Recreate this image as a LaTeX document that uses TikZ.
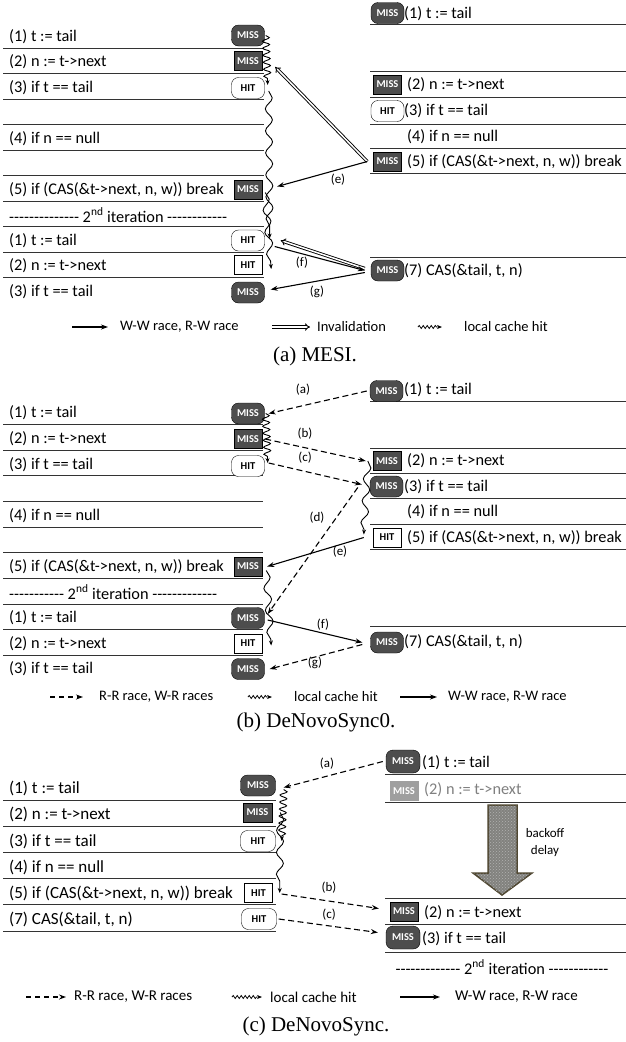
\documentclass[tikz,border=0pt]{standalone}
\usepackage{fontspec}
\setmainfont{Carlito}[Ligatures=TeXOff]
\newfontfamily\capfont{Liberation Serif}
\usetikzlibrary{arrows.meta,decorations.pathmorphing,patterns}
\definecolor{missfill}{RGB}{77,77,77}
\definecolor{delayfill}{RGB}{130,130,126}
\definecolor{delayedge}{RGB}{78,70,48}

\begin{document}
\begin{tikzpicture}[
  x=1pt, y=-1pt,
  stmt/.style={anchor=west, inner sep=0pt, font=\fontsize{16.3}{18}\selectfont},
  stmtc/.style={stmt, font=\fontsize{17}{19}\selectfont},
  hline/.style={line width=0.8pt, black!80},
  badge/.style={inner sep=0pt, font=\fontsize{10.5}{12}\selectfont\bfseries},
  missr/.style={badge, draw, fill=missfill, text=white, rounded corners=7pt, minimum width=33pt, minimum height=21pt},
  misss/.style={badge, draw, fill=missfill, text=white, minimum width=28pt, minimum height=19pt},
  hitr/.style={badge, draw, fill=white, rounded corners=7pt, minimum width=33pt, minimum height=21pt},
  hits/.style={badge, draw, fill=white, minimum width=28pt, minimum height=19pt},
  race/.style={line width=1.1pt, -{Stealth[length=7pt, width=5pt]}},
  rrace/.style={race, dash pattern=on 6pt off 3.5pt},
  inval/.style={double, double distance=1.5pt, line width=0.9pt, -{Implies}},
  hitw/.style={line width=0.9pt, -{Stealth[length=5pt, width=4pt]}, decorate,
    decoration={snake, amplitude=3.5pt, segment length=7pt, post length=4pt}},
  hitwl/.style={hitw, decoration={snake, amplitude=3.5pt, segment length=22pt, post length=4pt}},
  legw/.style={hitw, line width=0.8pt, decoration={snake, amplitude=1.5pt, segment length=4pt, post length=4pt}},
  lab/.style={inner sep=0pt, font=\fontsize{13}{15}\selectfont},
  leg/.style={anchor=west, inner sep=0pt, font=\fontsize{14.5}{16}\selectfont},
  capt/.style={font=\capfont\fontsize{21}{24}\selectfont}
]
  \useasboundingbox (0,0) rectangle (626,1042);
  \fill[white] (0,0) rectangle (626,1042);

  % (a) MESI -- left core
  \foreach \y in {48,73.5,99,124.5,150,175.5,201,226.5,252,277.5}
    \draw[hline] (3,\y) -- (264,\y);
  \node[stmt] (ta1) at (9,36.5) {(1) t := tail};
  \node[stmt] (ta2) at (9,62) {(2) n := t->next};
  \node[stmt] (ta3) at (9,87.5) {(3) if t == tail};
  \node[stmt] (ta4) at (9,138.5) {(4) if n == null};
  \node[stmt] (ta5) at (9,189.5) {(5) if (CAS(\&t->next, n, w)) break};
  \node[stmt] (tai) at (9,215) {-------------- 2\textsuperscript{nd} iteration ------------};
  \node[stmt] (ta6) at (9,240.5) {(1) t := tail};
  \node[stmt] (ta7) at (9,266) {(2) n := t->next};
  \node[stmt] (ta8) at (9,291.5) {(3) if t == tail};
  \node[missr] (a1) at (248,35.5) {MISS};
  \node[misss] (a2) at (248,61) {MISS};
  \node[hitr] (a3) at (248,88) {HIT};
  \node[misss] (a5) at (248,189.5) {MISS};
  \node[hitr] (a6) at (248,240.5) {HIT};
  \node[hits] (a7) at (248,265) {HIT};
  \node[missr] (a8) at (248,292.5) {MISS};

  % (a) MESI -- right core
  \foreach \y in {24,71,97,124.5,148,173,257}
    \draw[hline] (370,\y) -- (626,\y);
  \node[missr] (ra1) at (387.5,13) {MISS};
  \node[stmt] (tra1) at (404,13.5) {(1) t := tail};
  \node[misss] (ra2) at (387.5,84.5) {MISS};
  \node[stmt] (tra2) at (407,84.5) {(2) n := t->next};
  \node[hitr] (ra3) at (387.5,111) {HIT};
  \node[stmt] (tra3) at (404,111) {(3) if t == tail};
  \node[stmt] (tra4) at (407,136.5) {(4) if n == null};
  \node[misss] (ra5) at (387.5,161.5) {MISS};
  \node[stmt] (tra5) at (407,161.5) {(5) if (CAS(\&t->next, n, w)) break};
  \node[missr] (ra7) at (387.5,270.5) {MISS};
  \node[stmt] (tra7) at (404,270.5) {(7) CAS(\&tail, t, n)};

  % (a) races and hits
  \draw[hitw] ([xshift=1pt]a1.east) -- ([xshift=3pt,yshift=3pt]a3.east);
  \draw[hitwl] ([xshift=4pt,yshift=-3pt]a3.east) -- ([xshift=5pt,yshift=2pt]a6.east);
  \draw[hitwl] ([xshift=3pt,yshift=-3pt]a5.east) -- ([xshift=9pt,yshift=-4pt]a7.east);
  \draw[inval] ([xshift=-6pt]ra5.west) -- ([xshift=13pt,yshift=-6pt]a2.east);
  \draw[race] ([xshift=-6pt]ra5.west) -- ([xshift=15pt,yshift=3pt]a5.east);
  \draw[inval] ([xshift=-6pt,yshift=2pt]ra7.west) -- ([xshift=16pt]a6.east);
  \draw[race] ([xshift=10pt,yshift=-6pt]a6.east) -- ([xshift=-6pt]ra7.west);
  \draw[race] ([xshift=-6pt,yshift=-2pt]ra7.west) -- ([xshift=6pt,yshift=3pt]a8.east);
  \node[lab] (lae) at (338,180) {(e)};
  \node[lab] (laf) at (302,263) {(f)};
  \node[lab] (lag) at (317,292) {(g)};

  % (a) legend
  \node[leg] (lga1) at (120,327) {W-W race, R-W race};
  \draw[race] ([xshift=-48pt]lga1.west) -- ([xshift=-12pt]lga1.west);
  \node[leg] (lga2) at (317,327) {Invalidation};
  \draw[inval] ([xshift=-45pt]lga2.west) -- ([xshift=-7pt]lga2.west);
  \node[leg] (lga3) at (464,327) {local cache hit};
  \draw[legw] ([xshift=-46pt]lga3.west) -- ([xshift=-22pt]lga3.west);
  \node[capt] (capa) at (315,356) {(a) MESI.};

  % (b) DeNovoSync0 -- left core
  \foreach \y in {424,450,475.5,501,527,552.5,578,604,629.5,655}
    \draw[hline] (3,\y) -- (263,\y);
  \node[stmt] (tb1) at (9,413) {(1) t := tail};
  \node[stmt] (tb2) at (9,439) {(2) n := t->next};
  \node[stmt] (tb3) at (9,464.5) {(3) if t == tail};
  \node[stmt] (tb4) at (9,515.5) {(4) if n == null};
  \node[stmt] (tb5) at (9,566.5) {(5) if (CAS(\&t->next, n, w)) break};
  \node[stmt] (tbi) at (9,592) {----------- 2\textsuperscript{nd} iteration -------------};
  \node[stmt] (tb6) at (9,618) {(1) t := tail};
  \node[stmt] (tb7) at (9,643.5) {(2) n := t->next};
  \node[stmt] (tb8) at (9,669) {(3) if t == tail};
  \node[missr] (b1) at (248,413.5) {MISS};
  \node[misss] (b2) at (248,439) {MISS};
  \node[hitr] (b3) at (248,466) {HIT};
  \node[misss] (b5) at (248,566.5) {MISS};
  \node[missr] (b6) at (248,618) {MISS};
  \node[hits] (b7) at (248,643.5) {HIT};
  \node[missr] (b8) at (248,669) {MISS};

  % (b) DeNovoSync0 -- right core
  \foreach \y in {401,448,473.5,498.5,524,549,626}
    \draw[hline] (370,\y) -- (626,\y);
  \node[missr] (rb1) at (386.5,391) {MISS};
  \node[stmt] (trb1) at (404,390) {(1) t := tail};
  \node[misss] (rb2) at (387,461) {MISS};
  \node[stmt] (trb2) at (407,461) {(2) n := t->next};
  \node[missr] (rb3) at (386.5,486.5) {MISS};
  \node[stmt] (trb3) at (404,486.5) {(3) if t == tail};
  \node[stmt] (trb4) at (407,512) {(4) if n == null};
  \node[hits] (rb5) at (387,537.5) {HIT};
  \node[stmt] (trb5) at (407,538) {(5) if (CAS(\&t->next, n, w)) break};
  \node[missr] (rb7) at (387,642.5) {MISS};
  \node[stmt] (trb7) at (404,642) {(7) CAS(\&tail, t, n)};

  % (b) races and hits
  \draw[rrace] ([xshift=-3pt]rb1.west) -- ([xshift=4pt]b1.east);
  \draw[hitw] ([xshift=1pt]b1.east) -- ([xshift=3pt,yshift=3pt]b3.east);
  \draw[rrace] ([xshift=3pt]b2.east) -- ([xshift=-7pt]rb2.west);
  \draw[rrace] ([xshift=4pt,yshift=3pt]b3.east) -- ([xshift=-8pt,yshift=2pt]rb3.west);
  \draw[hitwl] ([xshift=-5pt]rb2.west) -- ([xshift=-9pt,yshift=3pt]rb5.west);
  \draw[rrace] ([xshift=-12pt,yshift=-1pt]rb3.west) -- ([xshift=3pt,yshift=4pt]b6.east);
  \draw[race] ([xshift=-9pt]rb5.west) -- ([xshift=5pt]b5.east);
  \draw[hitwl] ([xshift=4pt,yshift=-4pt]b5.east) -- ([xshift=9pt,yshift=-2pt]b7.east);
  \draw[race] ([xshift=3pt,yshift=-2pt]b6.east) -- ([xshift=-8pt]rb7.west);
  \draw[rrace] ([xshift=-8pt,yshift=-2pt]rb7.west) -- ([xshift=5pt]b8.east);
  \node[lab] (lba) at (303,390) {(a)};
  \node[lab] (lbb) at (305,434) {(b)};
  \node[lab] (lbc) at (305,458) {(c)};
  \node[lab] (lbd) at (317,518) {(d)};
  \node[lab] (lbe) at (340,552) {(e)};
  \node[lab] (lbf) at (323,625) {(f)};
  \node[lab] (lbg) at (315,663) {(g)};

  % (b) legend
  \node[leg] (lgb1) at (99,697) {R-R race, W-R races};
  \draw[rrace, dash pattern=on 5pt off 4pt] ([xshift=-49pt]lgb1.west) -- ([xshift=-16pt]lgb1.west);
  \node[leg] (lgb2) at (294,697) {local cache hit};
  \draw[legw] ([xshift=-46pt]lgb2.west) -- ([xshift=-22pt]lgb2.west);
  \node[leg] (lgb3) at (448,697) {W-W race, R-W race};
  \draw[race] ([xshift=-48pt]lgb3.west) -- ([xshift=-11pt]lgb3.west);
  \node[capt] (capb) at (316,722) {(b) DeNovoSync0.};

  % (c) DeNovoSync -- left core
  \foreach \y in {800,826,852.5,878.5,904.5,931}
    \draw[hline] (3,\y) -- (276,\y);
  \node[stmtc] (tc1) at (9,788) {(1) t := tail};
  \node[stmtc] (tc2) at (9,814.5) {(2) n := t->next};
  \node[stmtc] (tc3) at (9,841) {(3) if t == tail};
  \node[stmtc] (tc4) at (9,867) {(4) if n == null};
  \node[stmtc] (tc5) at (9,893) {(5) if (CAS(\&t->next, n, w)) break};
  \node[stmtc] (tc7) at (9,919) {(7) CAS(\&tail, t, n)};
  \node[missr, minimum width=35pt] (c1) at (258,785.5) {MISS};
  \node[misss, minimum width=29pt] (c2) at (257.5,812.5) {MISS};
  \node[hitr, minimum width=35pt] (c3) at (258,841) {HIT};
  \node[hits] (c5) at (258.5,893) {HIT};
  \node[hitr, minimum width=35pt] (c7) at (259,919) {HIT};

  % (c) DeNovoSync -- right core
  \foreach \y in {774.5,802,898,924.5,952}
    \draw[hline] (385,\y) -- (626,\y);
  \node[missr, minimum width=34pt, minimum height=23pt] (rc1) at (403,761.5) {MISS};
  \node[stmt] (trc1) at (422,763) {(1) t := tail};
  \node[misss, fill=gray!75, draw=gray!75] (rc2g) at (404,791) {MISS};
  \node[stmt, text=gray] (trc2g) at (424,790) {(2) n := t->next};
  \draw[delayedge, line width=1.5pt, fill=delayfill,
        postaction={pattern=crosshatch dots, pattern color=black!30}]
    (488,805) -- (517,805) -- (517,873) -- (532,873) -- (502,895)
    -- (473,873) -- (488,873) -- cycle;
  \node[lab, align=center, font=\fontsize{13}{17}\selectfont] (delay) at (545,843) {backoff\\delay};
  \node[misss] (rc2) at (404,911.5) {MISS};
  \node[stmt] (trc2) at (424,913) {(2) n := t->next};
  \node[missr, minimum width=34pt, minimum height=23pt] (rc3) at (403,937.5) {MISS};
  \node[stmt] (trc3) at (422,939) {(3) if t == tail};
  \node[stmt, anchor=center] (trci) at (502,967) {------------- 2\textsuperscript{nd} iteration ------------};

  % (c) races and hits
  \draw[rrace] ([xshift=-3pt]rc1.west) -- ([xshift=8pt,yshift=-2pt]c1.east);
  \draw[hitw] ([xshift=8pt,yshift=-4pt]c1.east) -- ([xshift=6pt]c3.east);
  \draw[hitwl] ([xshift=8pt]c2.east) -- ([xshift=7pt]c5.east);
  \draw[rrace] ([xshift=9pt,yshift=-1pt]c5.east) -- ([xshift=-11pt,yshift=3pt]rc2.west);
  \draw[rrace] ([xshift=2pt]c7.east) -- ([xshift=-8pt,yshift=5pt]rc3.west);
  \node[lab] (lca) at (327,764) {(a)};
  \node[lab] (lcb) at (329,888) {(b)};
  \node[lab] (lcc) at (329,915) {(c)};

  % (c) legend
  \node[leg, font=\fontsize{15}{17}\selectfont] (lgc1) at (74,997) {R-R race, W-R races};
  \draw[rrace, dash pattern=on 5pt off 4pt] ([xshift=-48pt]lgc1.west) -- ([xshift=-8pt]lgc1.west);
  \node[leg, font=\fontsize{15}{17}\selectfont] (lgc2) at (270,997) {local cache hit};
  \draw[legw] ([xshift=-38pt]lgc2.west) -- ([xshift=-8pt]lgc2.west);
  \node[leg, font=\fontsize{15}{17}\selectfont] (lgc3) at (455,997) {W-W race, R-W race};
  \draw[race] ([xshift=-55pt]lgc3.west) -- ([xshift=-15pt]lgc3.west);
  \node[capt] (capc) at (316,1026) {(c) DeNovoSync.};
\end{tikzpicture}
\end{document}
